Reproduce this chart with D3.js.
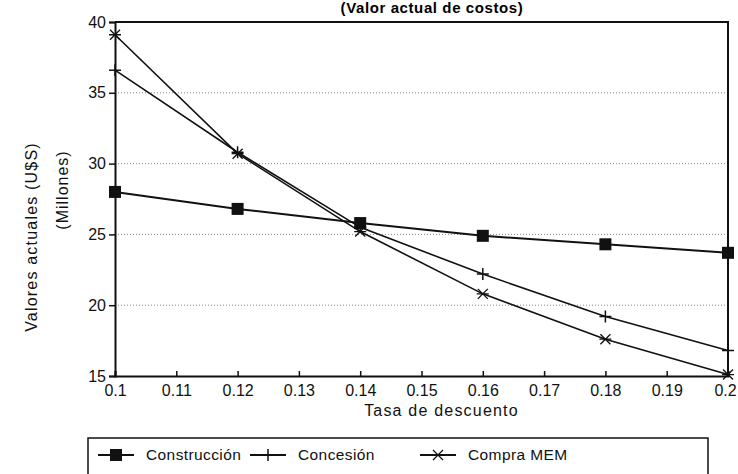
<!DOCTYPE html>
<html>
<head>
<meta charset="utf-8">
<script src="https://cdn.jsdelivr.net/npm/d3@7"></script>
<style>
  body { margin: 0; background: #fff; }
  svg { display: block; font-family: "Liberation Sans", Arial, sans-serif; }
</style>
</head>
<body>
<svg id="chart" width="738" height="474"></svg>
<script>
// discount rates and present values (millions U$S)
const rates = [0.1, 0.12, 0.14, 0.16, 0.18, 0.2];
const construccion = [28.0, 26.8, 25.8, 24.9, 24.3, 23.7];
const concesion = [36.6, 30.8, 25.5, 22.2, 19.2, 16.8];
const compraMEM = [39.1, 30.7, 25.2, 20.8, 17.6, 15.1];
const xTicks = [0.1, 0.11, 0.12, 0.13, 0.14, 0.15, 0.16, 0.17, 0.18, 0.19, 0.2];
const yTicks = [15, 20, 25, 30, 35, 40];

const series = [
    { name: 'Construcción', values: construccion, marker: 'square' },
    { name: 'Concesión', values: concesion, marker: 'plus' },
    { name: 'Compra MEM', values: compraMEM, marker: 'star' },
];

const margin = { left: 115, right: 10, top: 22, bottom: 97 };
const svg = d3.select('#chart');

const x = d3.scaleLinear().domain([0.1, 0.2]).range([margin.left, 728]);
const y = d3.scaleLinear().domain([15, 40]).range([376, margin.top]);

// title at the top edge
svg.append('text')
    .attr('x', 432).attr('y', 13)
    .attr('text-anchor', 'middle')
    .attr('font-size', 15).attr('font-weight', 'bold')
    .attr('letter-spacing', 0.6)
    .text('(Valor actual de costos)');

// dotted grid
svg.append('g')
    .selectAll('line')
    .data(yTicks.filter(d => d > 15 && d < 40))
    .enter()
    .append('line')
    .attr('x1', x(0.1)).attr('x2', x(0.2))
    .attr('y1', d => y(d)).attr('y2', d => y(d))
    .attr('stroke', '#888')
    .attr('stroke-width', 1)
    .attr('stroke-dasharray', '1,2');

// frame top and right
svg.append('path')
    .attr('d', `M${x(0.1)},${y(40)}H${x(0.2)}V${y(15)}`)
    .attr('fill', 'none')
    .attr('stroke', '#111')
    .attr('stroke-width', 2);

// axes
const yAxis = svg.append('g')
    .attr('transform', `translate(${x(0.1)},0)`)
    .call(d3.axisLeft(y).tickValues(yTicks).tickSize(6).tickPadding(3));

const xAxis = svg.append('g')
    .attr('transform', `translate(0,${y(15)})`)
    .call(d3.axisBottom(x).tickValues(xTicks).tickSize(-5).tickPadding(9)
        .tickFormat(d => String(+d.toFixed(2))));

[yAxis, xAxis].forEach(g => {
    g.select('.domain').attr('stroke', '#111').attr('stroke-width', 2);
    g.selectAll('.tick line').attr('stroke', '#111').attr('stroke-width', 1.5);
    g.selectAll('.tick text')
        .attr('fill', '#111')
        .attr('font-size', 16)
        .attr('font-family', '"Liberation Sans", Arial, sans-serif');
});

// keep the last x label inside the picture
xAxis.selectAll('.tick text').filter(d => d === 0.2).attr('dx', -3);

// axis titles
svg.append('text')
    .attr('transform', `translate(37,237) rotate(-90)`)
    .attr('text-anchor', 'middle')
    .attr('font-size', 16).attr('fill', '#111')
    .attr('letter-spacing', 1.2)
    .text('Valores actuales (U$S)');

svg.append('text')
    .attr('transform', `translate(68,190) rotate(-90)`)
    .attr('text-anchor', 'middle')
    .attr('font-size', 16).attr('fill', '#111')
    .attr('letter-spacing', 1)
    .text('(Millones)');

svg.append('text')
    .attr('x', x(0.15) + 20).attr('y', 416)
    .attr('text-anchor', 'middle')
    .attr('font-size', 16).attr('fill', '#111')
    .attr('letter-spacing', 1.2)
    .text('Tasa de descuento');

// markers
function drawMarker(g, type, cx, cy) {
    if (type === 'square') {
        g.append('rect')
            .attr('x', cx - 6).attr('y', cy - 6)
            .attr('width', 12).attr('height', 12)
            .attr('fill', '#111');
    } else if (type === 'plus') {
        g.append('path')
            .attr('d', `M${cx - 6},${cy}H${cx + 6}M${cx},${cy - 6}V${cy + 6}`)
            .attr('stroke', '#111').attr('stroke-width', 1.5);
    } else {
        g.append('path')
            .attr('d', `M${cx - 5},${cy - 5}L${cx + 5},${cy + 5}M${cx - 5},${cy + 5}L${cx + 5},${cy - 5}M${cx - 6},${cy}H${cx + 6}`)
            .attr('stroke', '#111').attr('stroke-width', 1.3);
    }
}

const line = d3.line()
    .x((d, i) => x(rates[i]))
    .y(d => y(d));

series.forEach(s => {
    const g = svg.append('g');
    g.append('path')
        .attr('d', line(s.values))
        .attr('fill', 'none')
        .attr('stroke', '#111')
        .attr('stroke-width', s.marker === 'square' ? 2 : 1.6);
    s.values.forEach((v, i) => drawMarker(g, s.marker, x(rates[i]), y(v)));
});

// legend
const legend = svg.append('g');
legend.append('rect')
    .attr('x', 88).attr('y', 438)
    .attr('width', 620).attr('height', 50)
    .attr('fill', 'none')
    .attr('stroke', '#111')
    .attr('stroke-width', 1.5);

const legendX = [98, 250, 420];
series.forEach((s, i) => {
    const lx = legendX[i], ly = 455;
    legend.append('line')
        .attr('x1', lx).attr('x2', lx + 36)
        .attr('y1', ly).attr('y2', ly)
        .attr('stroke', '#111').attr('stroke-width', 2);
    drawMarker(legend, s.marker, lx + 18, ly);
    legend.append('text')
        .attr('x', lx + 48).attr('y', ly + 5)
        .attr('font-size', 15.5).attr('fill', '#111')
        .attr('letter-spacing', 0.4)
        .text(s.name);
});
</script>
</body>
</html>
